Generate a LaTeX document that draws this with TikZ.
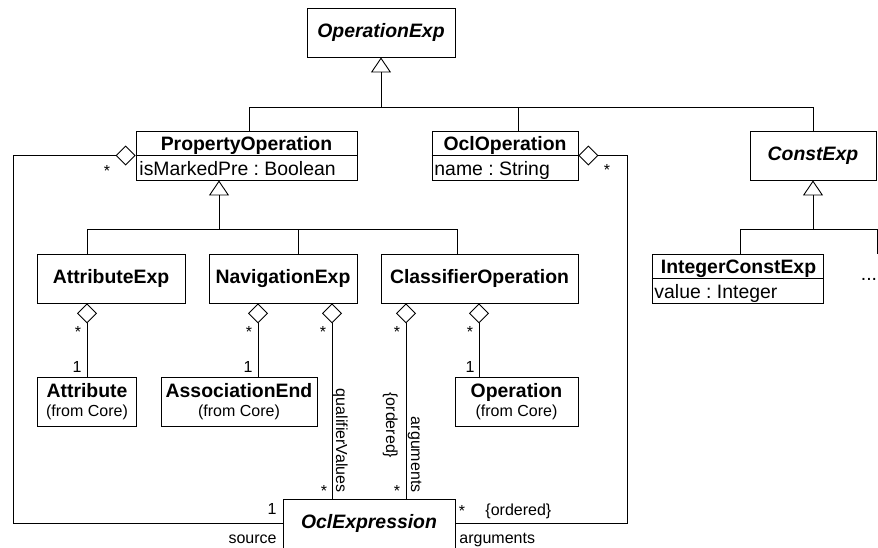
\documentclass[tikz,border=0pt]{standalone}
\usepackage{fontspec}
\setmainfont{Liberation Sans}
\usetikzlibrary{arrows.meta}
\frenchspacing

\begin{document}
\begin{tikzpicture}[x=1pt,y=-1pt,line width=0.9pt,
  box/.style={draw,line width=0.9pt,inner sep=0pt,minimum height=49pt},
  boxt/.style={box,font=\fontsize{19.4}{22}\selectfont\bfseries,text height=14pt,text depth=4pt},
  boxti/.style={boxt,font=\fontsize{19.4}{22}\selectfont\bfseries\itshape},
  ttl/.style={font=\fontsize{19.4}{22}\selectfont\bfseries,inner sep=0pt,anchor=base},
  attr/.style={font=\fontsize{19.4}{22}\selectfont,inner sep=0pt,anchor=base west},
  sub/.style={font=\fontsize{16}{19}\selectfont,inner sep=0pt,anchor=base},
  lbl/.style={font=\fontsize{16}{19}\selectfont,inner sep=0pt,anchor=base},
  vlbl/.style={lbl,rotate=-90},
  gen/.style={-{Triangle[open,length=15pt,width=20pt]}},
  agg/.style={-{Diamond[open,length=20pt,width=20pt]}},
]
\useasboundingbox (0,0) rectangle (878,547);
\clip (0,0) rectangle (878,547);

% ---- classes ----
\node[boxti,minimum width=148pt] (opexp) at (381,32.5) {OperationExp};

\node[box,minimum width=221pt] (propop) at (246.5,155.5) {};
\node[ttl] (propopT) at (246.5,150) {PropertyOperation};
\node[attr] (propopA) at (139,175) {isMarkedPre : Boolean};
\draw (propop.west |- 0,155) -- (propop.east |- 0,155);

\node[box,minimum width=146pt] (oclop) at (505,155.5) {};
\node[ttl] (oclopT) at (505,150) {OclOperation};
\node[attr] (oclopA) at (434,175) {name : String};
\draw (oclop.west |- 0,155) -- (oclop.east |- 0,155);

\node[boxti,minimum width=126pt] (constexp) at (813,155.5) {ConstExp};

\node[boxt,minimum width=148pt] (attrexp) at (111,278.5) {AttributeExp};
\node[boxt,minimum width=148pt] (navexp) at (283,278.5) {NavigationExp};
\node[boxt,minimum width=197pt] (classop) at (479.5,278.5) {ClassifierOperation};

\node[box,minimum width=171pt] (intconst) at (737.5,278.5) {};
\node[ttl] (intconstT) at (738.5,273) {IntegerConstExp};
\node[attr] (intconstA) at (654,298) {value : Integer};
\draw (intconst.west |- 0,278.5) -- (intconst.east |- 0,278.5);

\node[attr,anchor=base east] (more) at (877.5,280) {...};

\node[box,minimum width=99pt] (attribute) at (87,401.5) {};
\node[ttl] (attributeT) at (87,397) {Attribute};
\node[sub] (attributeS) at (87,416) {(from Core)};

\node[box,minimum width=156pt] (assocend) at (239,401.5) {};
\node[ttl] (assocendT) at (239,397) {AssociationEnd};
\node[sub] (assocendS) at (239,416) {(from Core)};

\node[box,minimum width=123pt] (operation) at (516.5,401.5) {};
\node[ttl] (operationT) at (516.5,397) {Operation};
\node[sub] (operationS) at (516.5,416) {(from Core)};

\node[boxti,minimum width=172pt] (oclexpr) at (369,523.5) {OclExpression};

% ---- generalizations ----
\coordinate (j1) at (381,107);
\draw[gen] (j1) -- (opexp.south);
\draw ([xshift=2.5pt]propop.north) |- (constexp.north |- j1) -- (constexp.north);
\draw ([xshift=13pt]oclop.north) -- ++(0,-24);

\coordinate (j2) at (219,229.5);
\draw[gen] (j2) -- (j2 |- propop.south);
\draw ([xshift=-24pt]attrexp.north) |- (j2) -| ([xshift=-22.5pt]classop.north);
\draw ([xshift=15pt]navexp.north) -- ++(0,-24.5);

\coordinate (j3) at (813,229.5);
\draw[gen] (j3) -- (constexp.south);
\coordinate (moretop) at (877,253.5);
\draw ([xshift=2.5pt]intconst.north) |- (moretop |- j3) -- (moretop);

% ---- aggregations ----
\draw[agg] (attribute.north) -- ([xshift=-24pt]attrexp.south);
\draw[agg] ([xshift=19pt]assocend.north) -- ([xshift=-25pt]navexp.south);
\draw[agg] ([xshift=-37pt]oclexpr.north) -- ([xshift=49pt]navexp.south);
\draw[agg] ([xshift=37pt]oclexpr.north) -- ([xshift=-73.5pt]classop.south);
\draw[agg] ([xshift=-37.5pt]operation.north) -- ([xshift=-0.5pt]classop.south);
\coordinate (lc) at (13,523.5);
\draw[agg] (oclexpr.west) -- (lc) |- (propop.west);
\coordinate (rc) at (627,523.5);
\draw[agg] (oclexpr.east) -- (rc) |- (oclop.east);

% ---- multiplicities and role names ----
\node[lbl] (m1) at (107,176) {*};
\node[lbl] (m2) at (607,175) {*};
\node[lbl] (m3) at (78,337.5) {*};
\node[lbl] (m4) at (249,337.5) {*};
\node[lbl] (m5) at (323,337.5) {*};
\node[lbl] (m6) at (397,337.5) {*};
\node[lbl] (m7) at (470,337.5) {*};
\node[lbl] (m8) at (324,496) {*};
\node[lbl] (m9) at (397,496) {*};
\node[lbl] (m10) at (462,516) {*};
\node[lbl] (o1) at (77,372) {1};
\node[lbl] (o2) at (248,372) {1};
\node[lbl] (o3) at (470,372) {1};
\node[lbl] (o4) at (272,514) {1};
\node[lbl,anchor=base east] (rsource) at (277,543) {source};
\node[lbl,anchor=base west] (rargs) at (459,543) {arguments};
\node[lbl,anchor=base west] (rord) at (485,515) {\{ordered\}};
\node[vlbl,anchor=base east] (rqual) at (336,493) {qualifierValues};
\node[vlbl,anchor=base west] (rord2) at (386,392) {\{ordered\}};
\node[vlbl,anchor=base east] (rargs2) at (411,493) {arguments};
\end{tikzpicture}
\end{document}
